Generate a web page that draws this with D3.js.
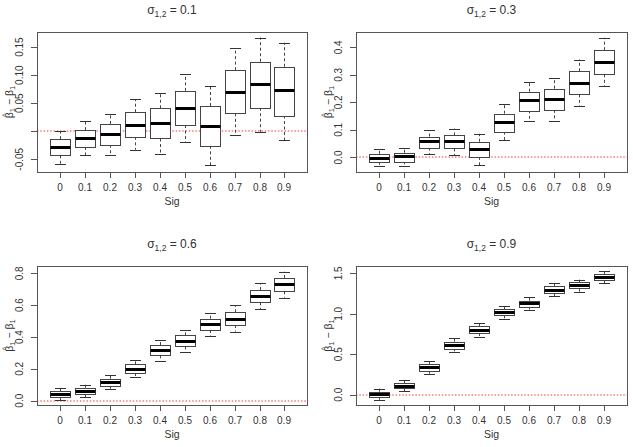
<!DOCTYPE html>
<html>
<head>
<meta charset="utf-8">
<script src="https://cdn.jsdelivr.net/npm/d3@7"></script>
<style>
  body { margin: 0; background: #fff; }
  svg text { font-family: "Liberation Sans", Arial, sans-serif; fill: #333; }
</style>
</head>
<body>
<svg width="633" height="447"></svg>
<script>
// boxplot stats: [lower whisker, q1, median, q3, upper whisker]
var sig = ["0", "0.1", "0.2", "0.3", "0.4", "0.5", "0.6", "0.7", "0.8", "0.9"];
var titles = ["0.1", "0.3", "0.6", "0.9"];

var stats01 = [
  [-0.058, -0.043, -0.028, -0.014, 0.000],
  [-0.043, -0.028, -0.012, 0.002, 0.019],
  [-0.042, -0.024, -0.005, 0.013, 0.031],
  [-0.033, -0.010, 0.012, 0.034, 0.057],
  [-0.040, -0.013, 0.014, 0.041, 0.069],
  [-0.020, 0.011, 0.042, 0.072, 0.102],
  [-0.061, -0.026, 0.009, 0.045, 0.081],
  [-0.007, 0.032, 0.070, 0.109, 0.148],
  [-0.001, 0.042, 0.084, 0.124, 0.167],
  [-0.016, 0.028, 0.073, 0.115, 0.158]
];
var stats03 = [
  [-0.030, -0.016, -0.002, 0.013, 0.030],
  [-0.030, -0.014, 0.006, 0.017, 0.035],
  [0.013, 0.036, 0.058, 0.076, 0.098],
  [0.009, 0.033, 0.058, 0.080, 0.105],
  [-0.028, 0.002, 0.031, 0.057, 0.086],
  [0.063, 0.094, 0.127, 0.159, 0.195],
  [0.134, 0.171, 0.207, 0.239, 0.276],
  [0.134, 0.173, 0.211, 0.250, 0.287],
  [0.187, 0.229, 0.270, 0.313, 0.356],
  [0.258, 0.302, 0.347, 0.390, 0.435]
];
var stats06 = [
  [0.004, 0.021, 0.040, 0.061, 0.077],
  [0.023, 0.042, 0.063, 0.082, 0.100],
  [0.071, 0.094, 0.117, 0.138, 0.161],
  [0.147, 0.174, 0.201, 0.228, 0.255],
  [0.251, 0.285, 0.318, 0.350, 0.381],
  [0.306, 0.341, 0.375, 0.410, 0.442],
  [0.406, 0.444, 0.482, 0.515, 0.551],
  [0.434, 0.475, 0.513, 0.555, 0.599],
  [0.574, 0.618, 0.658, 0.695, 0.737],
  [0.647, 0.687, 0.731, 0.771, 0.810]
];
var stats09 = [
  [-0.062, -0.025, 0.008, 0.037, 0.074],
  [0.041, 0.078, 0.111, 0.144, 0.185],
  [0.260, 0.297, 0.342, 0.379, 0.416],
  [0.531, 0.573, 0.618, 0.655, 0.696],
  [0.717, 0.762, 0.803, 0.845, 0.890],
  [0.931, 0.981, 1.018, 1.055, 1.100],
  [1.042, 1.088, 1.129, 1.162, 1.203],
  [1.220, 1.253, 1.294, 1.339, 1.376],
  [1.269, 1.310, 1.351, 1.389, 1.421],
  [1.380, 1.417, 1.454, 1.487, 1.525]
];

var ticks01 = [-0.05, 0, 0.05, 0.10, 0.15];
var ticks03 = [0, 0.1, 0.2, 0.3, 0.4];
var ticks06 = [0, 0.2, 0.4, 0.6, 0.8];
var ticks09 = [0, 0.5, 1.0, 1.5];

var svg = d3.select("svg");

var panels = [
  { title: titles[0], data: stats01, ticks: ticks01, fmt: function(d) { return d == 0 ? "" : d.toFixed(2); },
    left: 37, right: 307, top: 32, bottom: 172, ydom: [-0.0727, 0.177] },
  { title: titles[1], data: stats03, ticks: ticks03, fmt: function(d) { return d.toFixed(1); },
    left: 356, right: 627, top: 32, bottom: 172, ydom: [-0.053, 0.456] },
  { title: titles[2], data: stats06, ticks: ticks06, fmt: function(d) { return d.toFixed(1); },
    left: 37, right: 307, top: 266, bottom: 405, ydom: [-0.027, 0.846] },
  { title: titles[3], data: stats09, ticks: ticks09, fmt: function(d) { return d.toFixed(1); },
    left: 356, right: 627, top: 266, bottom: 405, ydom: [-0.127, 1.59] }
];

// snap to the pixel grid so 1px lines stay crisp
function px(v) { return Math.round(v) + 0.5; }

panels.forEach(drawPanel);

function drawPanel(p) {
  var g = svg.append("g");
  var x = d3.scaleLinear().domain([0.1, 10.9]).range([p.left, p.right]);
  var y = d3.scaleLinear().domain(p.ydom).range([p.bottom, p.top]);
  var bw = 0.8 * (x(2) - x(1));

  // y axis
  var ya = g.append("g")
    .attr("transform", "translate(" + p.left + ",0)")
    .call(d3.axisLeft(y).tickValues(p.ticks).tickFormat(p.fmt).tickSize(6));
  ya.select(".domain").remove();
  ya.selectAll(".tick").attr("transform", null);
  ya.selectAll(".tick line")
    .attr("stroke", "#555")
    .attr("y1", function(d) { return px(y(d)); }).attr("y2", function(d) { return px(y(d)); });
  ya.selectAll(".tick text")
    .attr("font-size", 10).attr("fill", "#333")
    .attr("text-anchor", "middle")
    .attr("x", 0).attr("y", 0).attr("dy", "0.35em")
    .attr("transform", function(d) { return "translate(-18," + y(d) + ") rotate(-90)"; });

  // x axis
  var xa = g.append("g")
    .attr("transform", "translate(0," + p.bottom + ")")
    .call(d3.axisBottom(x).tickValues(d3.range(1, 11)).tickFormat(function(d) { return sig[d - 1]; })
      .tickSize(6).tickPadding(6));
  xa.select(".domain").remove();
  xa.selectAll(".tick").attr("transform", function(d) { return "translate(" + (px(x(d)) - 0.5) + ",0)"; });
  xa.selectAll("line").attr("stroke", "#555").attr("x1", 0.5).attr("x2", 0.5);
  xa.selectAll("text").attr("font-size", 10).attr("fill", "#333");

  // red zero line (abline h = 0, dotted)
  g.append("line")
    .attr("x1", p.left).attr("x2", p.right)
    .attr("y1", Math.round(y(0))).attr("y2", Math.round(y(0)))
    .attr("stroke", "#f03c2c").attr("stroke-width", 1.2)
    .attr("stroke-dasharray", "1.5,1.8");

  var box = g.selectAll(".bx").data(p.data).enter().append("g").attr("class", "bx");

  // whiskers
  box.append("line")
    .attr("x1", function(d, i) { return px(x(i + 1)); }).attr("x2", function(d, i) { return px(x(i + 1)); })
    .attr("y1", function(d) { return y(d[3]); }).attr("y2", function(d) { return y(d[4]); })
    .attr("stroke", "#444").attr("stroke-dasharray", "3,2.5");
  box.append("line")
    .attr("x1", function(d, i) { return px(x(i + 1)); }).attr("x2", function(d, i) { return px(x(i + 1)); })
    .attr("y1", function(d) { return y(d[1]); }).attr("y2", function(d) { return y(d[0]); })
    .attr("stroke", "#444").attr("stroke-dasharray", "3,2.5");
  // staples
  [0, 4].forEach(function(k) {
    box.append("line")
      .attr("x1", function(d, i) { return Math.round(x(i + 1) - bw / 4); })
      .attr("x2", function(d, i) { return Math.round(x(i + 1) + bw / 4) + 1; })
      .attr("y1", function(d) { return px(y(d[k])); }).attr("y2", function(d) { return px(y(d[k])); })
      .attr("stroke", "#333");
  });
  // boxes
  box.append("rect")
    .attr("x", function(d, i) { return px(x(i + 1) - bw / 2); })
    .attr("width", Math.round(bw))
    .attr("y", function(d) { return px(y(d[3])); })
    .attr("height", function(d) { return Math.round(y(d[1]) - y(d[3])); })
    .attr("fill", "#fff").attr("stroke", "#444");
  // medians
  box.append("line")
    .attr("x1", function(d, i) { return px(x(i + 1) - bw / 2); })
    .attr("x2", function(d, i) { return px(x(i + 1) - bw / 2) + Math.round(bw); })
    .attr("y1", function(d) { return px(y(d[2])); }).attr("y2", function(d) { return px(y(d[2])); })
    .attr("stroke", "#000").attr("stroke-width", 3);

  // frame
  g.append("rect")
    .attr("x", px(p.left)).attr("y", px(p.top))
    .attr("width", p.right - p.left).attr("height", p.bottom - p.top)
    .attr("fill", "none").attr("stroke", "#555");

  // x label
  g.append("text")
    .attr("x", (p.left + p.right) / 2).attr("y", p.bottom + 33)
    .attr("text-anchor", "middle").attr("font-size", 10.5)
    .text("Sig");

  // title
  var t = g.append("text")
    .attr("x", (p.left + p.right) / 2).attr("y", p.top - 18)
    .attr("text-anchor", "middle").attr("font-size", 12);
  t.append("tspan").text("σ");
  t.append("tspan").attr("font-size", 8.5).attr("dy", 3).text("1,2");
  t.append("tspan").attr("dy", -3).text(" = " + p.title);

  // y label: beta-hat_1 - beta_1
  var yl = g.append("g")
    .attr("transform", "translate(" + (p.left - 24) + "," + ((p.top + p.bottom) / 2) + ") rotate(-90)");
  var lt = yl.append("text").attr("font-size", 10.5);
  lt.append("tspan").text("β");
  lt.append("tspan").attr("font-size", 7.5).attr("dy", 2).text("1");
  lt.append("tspan").attr("dy", -2).text(" − β");
  lt.append("tspan").attr("font-size", 7.5).attr("dy", 2).text("1");
  var L = lt.node().getComputedTextLength();
  lt.attr("x", -L / 2);
  yl.append("text")
    .attr("x", -L / 2 + 1.5).attr("y", -6)
    .attr("font-size", 7)
    .text("^");
}
</script>
</body>
</html>
